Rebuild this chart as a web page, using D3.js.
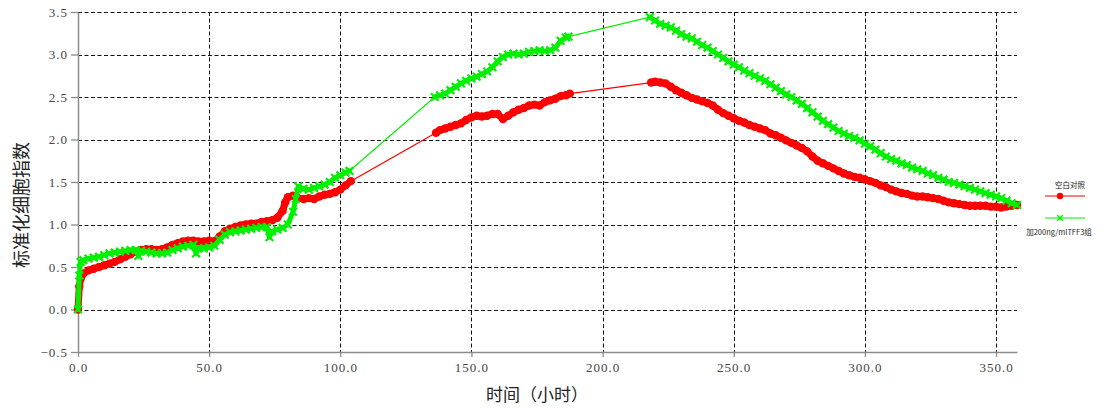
<!DOCTYPE html>
<html>
<head>
<meta charset="utf-8">
<script src="https://cdn.jsdelivr.net/npm/d3@7"></script>
<style>
body{margin:0;background:#fff;}
svg{display:block;}
</style>
</head>
<body>
<svg id="chart" width="1104" height="411"></svg>
<script>
// [hours, normalized cell index]
var blank_control=[
[0,0.00],[0.5,0.27],[1,0.36],[2,0.42],[4,0.46],[6,0.48],[8,0.50],[10,0.52],[12,0.54],[14,0.56],
[16,0.59],[18,0.62],[20,0.65],[22,0.68],[24,0.70],[26,0.71],[28,0.71],[30,0.70],[32,0.71],[34,0.73],
[36,0.76],[38,0.78],[40,0.80],[42,0.81],[44,0.81],[46,0.80],[48,0.80],[50,0.81],[52,0.80],[54,0.86],
[56,0.92],[58,0.95],[60,0.97],[62,0.99],[64,1.00],[66,1.01],[68,1.01],[70,1.03],[72,1.04],[74,1.05],
[76,1.08],[78,1.16],[79,1.26],[80,1.32],[82,1.34],[84,1.31],[86,1.30],[88,1.31],[90,1.30],[92,1.33],
[94,1.35],[96,1.36],[98,1.38],[100,1.41],[102,1.46],[104,1.51],
[136.5,2.08],[138,2.11],[140,2.13],[142,2.15],[144,2.17],[146,2.19],[148,2.23],[150,2.26],[152,2.28],
[154,2.27],[156,2.28],[158,2.30],[160,2.30],[162,2.24],[164,2.28],[166,2.32],[168,2.35],[170,2.37],
[172,2.40],[174,2.41],[176,2.40],[178,2.44],[180,2.46],[182,2.48],[184,2.51],[186,2.52],[187.5,2.54],
[218.5,2.67],[220,2.68],[222,2.67],[224,2.66],[226,2.62],[228,2.58],[230,2.55],[232,2.52],[234,2.49],
[236,2.47],[238,2.45],[240,2.43],[242,2.40],[244,2.35],[246,2.31],[248,2.28],[250,2.25],[252,2.22],
[254,2.20],[256,2.17],[258,2.15],[260,2.13],[262,2.11],[264,2.07],[266,2.05],[268,2.02],[270,1.99],
[272,1.96],[274,1.93],[276,1.90],[278,1.86],[280,1.80],[282,1.75],[284,1.72],[286,1.69],[288,1.66],
[290,1.63],[292,1.60],[294,1.58],[296,1.56],[298,1.55],[300,1.53],[302,1.51],[304,1.49],[306,1.46],
[308,1.44],[310,1.41],[312,1.39],[314,1.37],[316,1.36],[318,1.34],[320,1.33],[322,1.33],[324,1.32],
[326,1.31],[328,1.30],[330,1.28],[332,1.26],[334,1.25],[336,1.24],[338,1.23],[340,1.22],[342,1.22],
[344,1.22],[346,1.22],[348,1.21],[350,1.21],[352,1.20],[354,1.21],[356,1.22],[358,1.23]
];
var tff3_group=[
[0,0.00],[0.5,0.40],[1,0.56],[2,0.58],[4,0.60],[6,0.61],[8,0.62],[10,0.64],[12,0.66],[14,0.67],
[16,0.68],[18,0.69],[20,0.70],[22,0.70],[23,0.63],[24,0.69],[26,0.68],[28,0.67],[30,0.66],[32,0.66],
[34,0.67],[36,0.70],[38,0.72],[40,0.74],[42,0.75],[44,0.76],[45,0.66],[46,0.72],[48,0.72],[50,0.73],
[52,0.75],[54,0.82],[56,0.88],[58,0.91],[60,0.92],[62,0.93],[64,0.94],[66,0.95],[68,0.96],[70,0.97],
[72,0.97],[73,0.85],[74,0.92],[76,0.94],[78,0.96],[80,1.00],[82,1.15],[83,1.30],[84,1.45],[86,1.42],
[88,1.41],[90,1.43],[92,1.45],[94,1.47],[96,1.50],[98,1.55],[100,1.58],[102,1.61],[103.5,1.63],
[136,2.50],[138,2.52],[140,2.54],[142,2.58],[144,2.62],[146,2.66],[148,2.69],[150,2.72],[152,2.74],
[154,2.77],[156,2.80],[158,2.85],[160,2.92],[162,2.97],[164,3.00],[166,3.01],[168,3.00],[170,3.01],
[172,3.03],[174,3.04],[176,3.05],[178,3.04],[180,3.05],[182,3.08],[184,3.16],[186,3.20],[187,3.21],
[218,3.44],[220,3.40],[222,3.36],[224,3.34],[226,3.32],[228,3.28],[230,3.24],[232,3.21],[234,3.19],
[236,3.15],[238,3.11],[240,3.08],[242,3.04],[244,3.00],[246,2.96],[248,2.92],[250,2.88],[252,2.85],
[254,2.81],[256,2.78],[258,2.75],[260,2.72],[262,2.69],[264,2.65],[266,2.61],[268,2.57],[270,2.53],
[272,2.50],[274,2.46],[276,2.42],[278,2.37],[280,2.32],[282,2.27],[284,2.22],[286,2.18],[288,2.14],
[290,2.10],[292,2.07],[294,2.04],[296,2.02],[298,1.99],[300,1.95],[302,1.92],[304,1.88],[306,1.84],
[308,1.80],[310,1.77],[312,1.75],[314,1.72],[316,1.70],[318,1.67],[320,1.65],[322,1.63],[324,1.60],
[326,1.58],[328,1.55],[330,1.53],[332,1.50],[334,1.49],[336,1.47],[338,1.45],[340,1.43],[342,1.41],
[344,1.39],[346,1.37],[348,1.35],[350,1.33],[352,1.31],[354,1.28],[356,1.25],[358,1.23]
];
var x_ticks=[0,50,100,150,200,250,300,350];
var y_ticks=[-0.5,0,0.5,1,1.5,2,2.5,3,3.5];
var series_names=['空白对照','加200ng/mlTFF3组'];
var x_title='时间（小时）';
var y_title='标准化细胞指数';

var RED='#ff0000', GREEN='#00f000';
var cjk='"Noto Sans CJK SC", sans-serif';
var numfont='"Liberation Serif", "DejaVu Serif", serif';

var svg=d3.select('#chart');
var x=d3.scaleLinear().domain([0,358]).range([78,1017]);
var y=d3.scaleLinear().domain([-0.5,3.5]).range([352,12]);
var fmt=d3.format('.1f');

var gg=svg.append('g');

// dashed grid
gg.selectAll('line.hgrid').data(y_ticks.filter(function(d) {return d>-0.5;}))
    .enter().append('line').attr('class','hgrid')
    .attr('x1',x(0)).attr('x2',x(358))
    .attr('y1',function(d) {return Math.round(y(d))+0.5;})
    .attr('y2',function(d) {return Math.round(y(d))+0.5;})
    .style('stroke','#111').style('stroke-width',1).style('stroke-dasharray','4,2.5');
gg.selectAll('line.vgrid').data(x_ticks.filter(function(d) {return d>0;}))
    .enter().append('line').attr('class','vgrid')
    .attr('x1',function(d) {return Math.round(x(d))+0.5;})
    .attr('x2',function(d) {return Math.round(x(d))+0.5;})
    .attr('y1',y(3.5)).attr('y2',y(-0.5))
    .style('stroke','#111').style('stroke-width',1).style('stroke-dasharray','4,2.5');

// axes
var x_axis=d3.axisBottom(x).tickValues(x_ticks).tickFormat(fmt).tickSize(5).tickSizeOuter(0).tickPadding(6);
var y_axis=d3.axisLeft(y).tickValues(y_ticks).tickFormat(fmt).tickSize(7).tickSizeOuter(0).tickPadding(3);
var xg=gg.append('g').attr('transform','translate(0,'+y(-0.5)+')').call(x_axis);
var yg=gg.append('g').attr('transform','translate('+x(0)+',0)').call(y_axis);
[xg,yg].forEach(function(a) {
    a.select('.domain').style('stroke','#8c8c8c').style('stroke-width',1.5);
    a.selectAll('.tick line').style('stroke','#8c8c8c').style('stroke-width',1.3);
    a.selectAll('.tick text').style('font-family',numfont).style('font-size','13px')
        .style('letter-spacing','1px').style('fill','#444');
});

// axis titles
gg.append('text')
    .attr('transform','translate(537,401)')
    .style('text-anchor','middle').style('font-family',cjk).style('font-size','17px').style('fill','#222')
    .text(x_title);
gg.append('text')
    .attr('transform','translate(28,205) rotate(-90)')
    .style('text-anchor','middle').style('font-family',cjk).style('font-size','18px').style('fill','#222')
    .text(y_title);

// split a series where the recording has a long gap
function split_runs(data) {
    var runs=[[data[0]]];
    for (var i=1; i<data.length; i++) {
        if (data[i][0]-data[i-1][0]>10) runs.push([]);
        runs[runs.length-1].push(data[i]);
    }
    return runs;
}

var line=d3.line()
    .x(function(d) {return x(d[0]);})
    .y(function(d) {return y(d[1]);});
var cross=d3.symbol().type(d3.symbolX).size(40);

function draw_series(data,color,band) {
    gg.append('path').attr('d',line(data))
        .style('fill','none').style('stroke',color).style('stroke-width',1.2);
    split_runs(data).forEach(function(run) {
        gg.append('path').attr('d',line(run))
            .style('fill','none').style('stroke',color).style('stroke-width',band)
            .style('stroke-linejoin','round').style('stroke-linecap','round');
    });
}

draw_series(blank_control,RED,7);
gg.selectAll('circle.blank').data(blank_control)
    .enter().append('circle').attr('class','blank')
    .attr('cx',function(d) {return x(d[0]);})
    .attr('cy',function(d) {return y(d[1]);})
    .attr('r',4.2)
    .style('fill',RED);

draw_series(tff3_group,GREEN,5);
gg.selectAll('path.tff3').data(tff3_group)
    .enter().append('path').attr('class','tff3')
    .attr('transform',function(d) {return 'translate('+x(d[0])+','+y(d[1])+')';})
    .attr('d',cross)
    .style('fill','none').style('stroke',GREEN).style('stroke-width',2.2);

// legend
var lg=svg.append('g');
var leg_y=[196,218];
lg.append('text').attr('x',1070).attr('y',188)
    .style('text-anchor','middle').style('font-family',cjk).style('font-size','7.5px').style('fill','#222')
    .text(series_names[0]);
lg.append('line').attr('x1',1045).attr('x2',1085).attr('y1',leg_y[0]).attr('y2',leg_y[0])
    .style('stroke',RED).style('stroke-width',1.2);
lg.append('circle').attr('cx',1060).attr('cy',leg_y[0]).attr('r',3.2).style('fill',RED);
lg.append('line').attr('x1',1045).attr('x2',1085).attr('y1',leg_y[1]).attr('y2',leg_y[1])
    .style('stroke',GREEN).style('stroke-width',1.2);
lg.append('path').attr('transform','translate(1060,'+leg_y[1]+')')
    .attr('d',d3.symbol().type(d3.symbolX).size(22)())
    .style('fill','none').style('stroke',GREEN).style('stroke-width',1.5);
lg.append('text').attr('x',1059).attr('y',235)
    .style('text-anchor','middle').style('font-family',cjk).style('font-size','7.5px').style('fill','#222')
    .text(series_names[1]);
</script>
</body>
</html>
